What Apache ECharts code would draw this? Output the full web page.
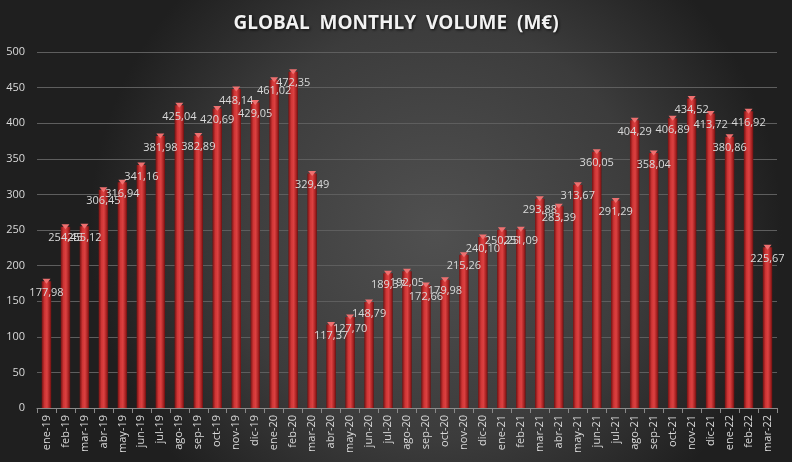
<!DOCTYPE html>
<html>
<head>
<meta charset="utf-8">
<script src="https://cdn.jsdelivr.net/npm/echarts@6/dist/echarts.min.js"></script>
<style>
html,body{margin:0;padding:0;background:#2b2b2b;}
#chart{width:792px;height:462px;}
</style>
</head>
<body>
<div id="chart"></div>
<script>
var titleText = 'GLOBAL  MONTHLY  VOLUME  (M€)';
var categories = ['ene-19','feb-19','mar-19','abr-19','may-19','jun-19','jul-19','ago-19','sep-19','oct-19','nov-19','dic-19',
  'ene-20','feb-20','mar-20','abr-20','may-20','jun-20','jul-20','ago-20','sep-20','oct-20','nov-20','dic-20',
  'ene-21','feb-21','mar-21','abr-21','may-21','jun-21','jul-21','ago-21','sep-21','oct-21','nov-21','dic-21',
  'ene-22','feb-22','mar-22'];
var volumes = [177.98,254.45,255.12,306.45,316.94,341.16,381.98,425.04,382.89,420.69,448.14,429.05,
  461.02,472.35,329.49,117.37,127.70,148.79,189.37,192.05,172.66,179.98,215.26,240.10,
  250.25,251.09,293.88,283.39,313.67,360.05,291.29,404.29,358.04,406.89,434.52,413.72,
  380.86,416.92,225.67];
var yTicks = {min:0, max:500, interval:50};

var chart = echarts.init(document.getElementById('chart'), null, {renderer:'canvas'});
var fontFam = '"Open Sans", "Noto Sans", sans-serif';
var txt = '#d9d9d9';
chart.setOption({
  backgroundColor: {
    type:'radial', x:0.55, y:0.5, r:0.75,
    colorStops:[{offset:0,color:'#505050'},{offset:0.6,color:'#3c3c3c'},{offset:1,color:'#1f1f1f'}]
  },
  title: {
    text: titleText, left:'center', top:9,
    textStyle:{color:'#f2f2f2', fontSize:19, fontWeight:'bold', fontFamily:fontFam,
      textShadowColor:'rgba(0,0,0,0.8)', textShadowBlur:3, textShadowOffsetX:1, textShadowOffsetY:1}
  },
  grid: {left:37, right:15, top:52, bottom:54, containLabel:false},
  xAxis: {
    type:'category', data:categories,
    axisLine:{lineStyle:{color:'#8a8a8a'}},
    axisTick:{show:true, alignWithLabel:false, length:5, lineStyle:{color:'#8a8a8a'}},
    axisLabel:{rotate:90, color:txt, fontSize:11, fontFamily:fontFam, interval:0, margin:7}
  },
  yAxis: {
    type:'value', min:yTicks.min, max:yTicks.max, interval:yTicks.interval,
    axisLine:{show:false}, axisTick:{show:false},
    splitLine:{lineStyle:{color:'#5e5e5e', width:1}},
    axisLabel:{color:txt, fontSize:11, fontFamily:fontFam, margin:12}
  },
  series: [{
    type:'bar', data:volumes, barWidth:'50%',
    itemStyle:{
      color:{type:'linear', x:0, y:0, x2:1, y2:0, colorStops:[
        {offset:0,color:'#741212'},{offset:0.3,color:'#cf3535'},{offset:0.55,color:'#dc4141'},{offset:0.85,color:'#a01f1f'},{offset:1,color:'#681010'}]}
    },
    label:{
      show:true, position:'insideTop', distance:6, color:txt, fontSize:11, fontFamily:fontFam,
      formatter:function(p){return p.value.toFixed(2).replace('.',',');}
    },
    z:2
  },{
    type:'pictorialBar', data:volumes, symbol:'triangle', symbolRotate:180,
    symbolSize:[8,5], symbolPosition:'end', symbolOffset:[0,'-50%'],
    itemStyle:{color:'#f07070'}, barGap:'-100%', z:3, silent:true
  }]
});
</script>
</body>
</html>
